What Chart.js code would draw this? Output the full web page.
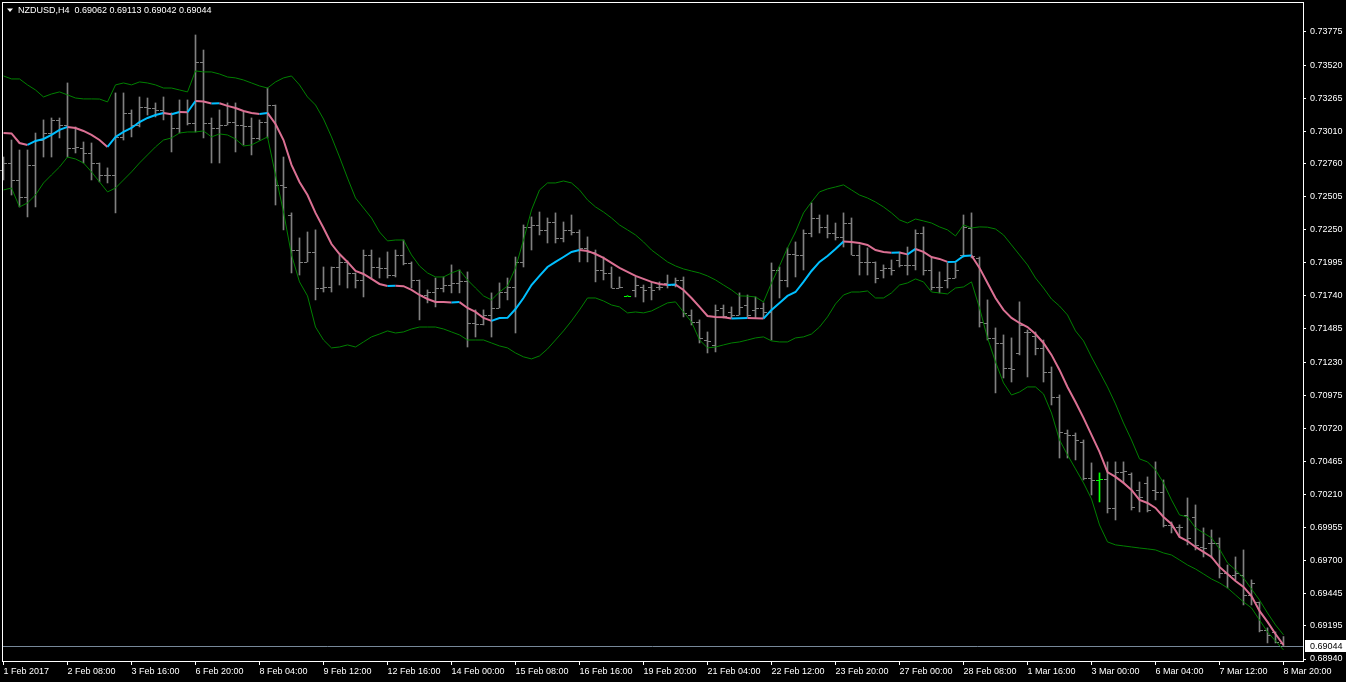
<!DOCTYPE html>
<html>
<head>
<meta charset="utf-8">
<title>NZDUSD,H4</title>
<script src="https://cdn.jsdelivr.net/npm/chart.js@4.4.1/dist/chart.umd.min.js"></script>
<style>
  html, body { margin: 0; padding: 0; background: #000; overflow: hidden; }
  canvas { display: block; }
</style>
</head>
<body>
<canvas id="chart" width="1346" height="682"></canvas>
<script>
const symbol = 'NZDUSD'
const period = 'H4'

// one label every 8th H4 bar
const timeLabels = ['1 Feb 2017', '2 Feb 08:00', '3 Feb 16:00', '6 Feb 20:00', '8 Feb 04:00', '9 Feb 12:00',
  '12 Feb 16:00', '14 Feb 00:00', '15 Feb 08:00', '16 Feb 16:00', '19 Feb 20:00', '21 Feb 04:00',
  '22 Feb 12:00', '23 Feb 20:00', '27 Feb 00:00', '28 Feb 08:00', '1 Mar 16:00', '3 Mar 00:00',
  '6 Mar 04:00', '7 Mar 12:00', '8 Mar 20:00']

const priceTicks = [0.73775, 0.73520, 0.73265, 0.73010, 0.72760, 0.72505, 0.72250, 0.71995, 0.71740, 0.71485,
  0.71230, 0.70975, 0.70720, 0.70465, 0.70210, 0.69955, 0.69700, 0.69445, 0.69195, 0.68940]

const opens = [
  0.72711, 0.72765, 0.72634, 0.72503, 0.72750, 0.72942, 0.72996, 0.73097, 0.73058, 0.72881,
  0.72881, 0.72842, 0.72765, 0.72673, 0.72670, 0.72966, 0.73151, 0.73058, 0.73197, 0.73189,
  0.73174, 0.73151, 0.73035, 0.73158, 0.73074, 0.73544, 0.73074, 0.73035, 0.73058, 0.73081,
  0.73058, 0.73050, 0.72958, 0.73081, 0.73212, 0.72596, 0.72364, 0.72094, 0.72002, 0.72079,
  0.71801, 0.71809, 0.71963, 0.72002, 0.71917, 0.71863, 0.72056, 0.71963, 0.71956, 0.71901,
  0.72056, 0.71994, 0.71863, 0.71747, 0.71770, 0.71801, 0.71824, 0.71840, 0.71855, 0.71531,
  0.71525, 0.71593, 0.71647, 0.71770, 0.71809, 0.72002, 0.72272, 0.72287, 0.72249, 0.72310,
  0.72187, 0.72249, 0.72233, 0.72110, 0.72079, 0.71940, 0.71917, 0.71801, 0.71742, 0.71786,
  0.71809, 0.71809, 0.71809, 0.71840, 0.71824, 0.71863, 0.71593, 0.71539, 0.71400, 0.71362,
  0.71647, 0.71616, 0.71593, 0.71670, 0.71632, 0.71647, 0.71616, 0.71940, 0.71863, 0.72063,
  0.72056, 0.72225, 0.72341, 0.72272, 0.72225, 0.72195, 0.72302, 0.72056, 0.72002, 0.71998,
  0.71940, 0.71956, 0.72017, 0.71979, 0.71975, 0.72225, 0.71940, 0.71809, 0.71863, 0.71878,
  0.72056, 0.72264, 0.72033, 0.71531, 0.71416, 0.71377, 0.71184, 0.71300, 0.71462, 0.71431,
  0.71339, 0.71154, 0.70961, 0.70683, 0.70668, 0.70614, 0.70336, 0.70321, 0.70325, 0.70105,
  0.70382, 0.70367, 0.70244, 0.70298, 0.70244, 0.70228, 0.69974, 0.69958, 0.70051, 0.70035,
  0.69804, 0.69835, 0.69831, 0.69604, 0.69588, 0.69588, 0.69434, 0.69380, 0.69164, 0.69149,
  0.69062]

const highs = [
  0.72811, 0.72942, 0.72865, 0.72865, 0.72996, 0.73097, 0.73112, 0.73112, 0.73382, 0.73043,
  0.72927, 0.72919, 0.72765, 0.72727, 0.73305, 0.73305, 0.73174, 0.73274, 0.73266, 0.73228,
  0.73274, 0.73151, 0.73251, 0.73251, 0.73752, 0.73636, 0.73112, 0.73174, 0.73228, 0.73228,
  0.73158, 0.73112, 0.73097, 0.73343, 0.73212, 0.72811, 0.72380, 0.72187, 0.72233, 0.72249,
  0.71963, 0.71963, 0.72056, 0.72010, 0.71917, 0.72094, 0.72094, 0.72033, 0.72079, 0.72094,
  0.72171, 0.72002, 0.71863, 0.71786, 0.71878, 0.71886, 0.71979, 0.71940, 0.71925, 0.71632,
  0.71632, 0.71763, 0.71840, 0.71878, 0.72040, 0.72287, 0.72349, 0.72387, 0.72341, 0.72380,
  0.72310, 0.72364, 0.72249, 0.72195, 0.72094, 0.72040, 0.71963, 0.71886, 0.71742, 0.71886,
  0.71824, 0.71848, 0.71848, 0.71901, 0.71878, 0.71886, 0.71632, 0.71555, 0.71462, 0.71670,
  0.71670, 0.71655, 0.71763, 0.71747, 0.71732, 0.71686, 0.71994, 0.71963, 0.72110, 0.72156,
  0.72249, 0.72457, 0.72364, 0.72364, 0.72302, 0.72380, 0.72341, 0.72133, 0.72110, 0.72002,
  0.71979, 0.72017, 0.72079, 0.72117, 0.72249, 0.72272, 0.72033, 0.71925, 0.71994, 0.71994,
  0.72364, 0.72380, 0.72040, 0.71709, 0.71493, 0.71439, 0.71416, 0.71694, 0.71477, 0.71462,
  0.71400, 0.71192, 0.70976, 0.70706, 0.70683, 0.70629, 0.70452, 0.70375, 0.70460, 0.70460,
  0.70460, 0.70375, 0.70305, 0.70344, 0.70460, 0.70321, 0.69997, 0.69974, 0.70182, 0.70128,
  0.69951, 0.69935, 0.69874, 0.69665, 0.69727, 0.69781, 0.69550, 0.69380, 0.69180, 0.69149,
  0.69113]

const lows = [
  0.72634, 0.72518, 0.72426, 0.72349, 0.72426, 0.72811, 0.72811, 0.72958, 0.72811, 0.72842,
  0.72765, 0.72634, 0.72619, 0.72611, 0.72380, 0.72942, 0.72966, 0.73043, 0.73135, 0.73120,
  0.73097, 0.72850, 0.72996, 0.73058, 0.73004, 0.72958, 0.72765, 0.72765, 0.73058, 0.72850,
  0.72904, 0.72827, 0.72942, 0.72958, 0.72441, 0.72249, 0.71917, 0.71901, 0.72002, 0.71709,
  0.71770, 0.71770, 0.71824, 0.71801, 0.71801, 0.71732, 0.71878, 0.71878, 0.71878, 0.71886,
  0.71979, 0.71801, 0.71555, 0.71686, 0.71655, 0.71770, 0.71763, 0.71763, 0.71346, 0.71423,
  0.71516, 0.71423, 0.71647, 0.71709, 0.71454, 0.71963, 0.72094, 0.72210, 0.72148, 0.72148,
  0.72156, 0.72210, 0.72002, 0.72002, 0.71848, 0.71863, 0.71801, 0.71801, 0.71738, 0.71732,
  0.71693, 0.71709, 0.71786, 0.71801, 0.71809, 0.71578, 0.71516, 0.71377, 0.71300, 0.71308,
  0.71570, 0.71570, 0.71593, 0.71578, 0.71570, 0.71570, 0.71400, 0.71724, 0.71809, 0.71886,
  0.71940, 0.72195, 0.72225, 0.72187, 0.72171, 0.72117, 0.72056, 0.71901, 0.71901, 0.71840,
  0.71878, 0.71901, 0.71963, 0.71901, 0.71940, 0.71901, 0.71786, 0.71763, 0.71801, 0.71878,
  0.72040, 0.72033, 0.71500, 0.71400, 0.70992, 0.71107, 0.71076, 0.71285, 0.71115, 0.71285,
  0.71076, 0.70899, 0.70490, 0.70490, 0.70475, 0.70321, 0.70205, 0.70151, 0.70066, 0.70012,
  0.70298, 0.70089, 0.70074, 0.70074, 0.70167, 0.69958, 0.69912, 0.69881, 0.69820, 0.69781,
  0.69727, 0.69719, 0.69565, 0.69488, 0.69550, 0.69357, 0.69357, 0.69149, 0.69064, 0.69064,
  0.69042]

const closes = [
  0.72765, 0.72634, 0.72503, 0.72750, 0.72942, 0.72996, 0.73097, 0.73058, 0.72881, 0.72885,
  0.72842, 0.72765, 0.72673, 0.72670, 0.72966, 0.73151, 0.73058, 0.73197, 0.73189, 0.73174,
  0.73151, 0.73035, 0.73158, 0.73074, 0.73544, 0.73074, 0.73035, 0.73058, 0.73081, 0.73058,
  0.73050, 0.72958, 0.73081, 0.73212, 0.72596, 0.72580, 0.72094, 0.72002, 0.72079, 0.71801,
  0.71809, 0.71963, 0.72002, 0.71917, 0.71863, 0.72056, 0.71963, 0.71956, 0.71901, 0.72056,
  0.71994, 0.71863, 0.71747, 0.71770, 0.71801, 0.71824, 0.71840, 0.71855, 0.71531, 0.71525,
  0.71593, 0.71647, 0.71770, 0.71809, 0.72002, 0.72272, 0.72287, 0.72249, 0.72310, 0.72187,
  0.72249, 0.72233, 0.72110, 0.72079, 0.71940, 0.71917, 0.71801, 0.71805, 0.71740, 0.71824,
  0.71786, 0.71786, 0.71805, 0.71824, 0.71863, 0.71608, 0.71539, 0.71416, 0.71395, 0.71632,
  0.71585, 0.71593, 0.71655, 0.71593, 0.71647, 0.71616, 0.71940, 0.71863, 0.72063, 0.72056,
  0.72225, 0.72341, 0.72272, 0.72225, 0.72195, 0.72302, 0.72056, 0.72002, 0.71998, 0.71878,
  0.71956, 0.71940, 0.71979, 0.71975, 0.72225, 0.71940, 0.71809, 0.71805, 0.71878, 0.71940,
  0.72272, 0.72048, 0.71539, 0.71416, 0.71377, 0.71184, 0.71180, 0.71516, 0.71458, 0.71339,
  0.71154, 0.70961, 0.70691, 0.70668, 0.70629, 0.70336, 0.70321, 0.70325, 0.70105, 0.70382,
  0.70390, 0.70113, 0.70190, 0.70089, 0.70228, 0.69974, 0.69958, 0.69955, 0.69874, 0.69820,
  0.69796, 0.69831, 0.69604, 0.69588, 0.69604, 0.69434, 0.69527, 0.69164, 0.69126, 0.69072,
  0.69044]

// Bollinger bands
const bandMiddle = [
  0.72996, 0.72993, 0.72919, 0.72904, 0.72935, 0.72950, 0.72981, 0.73020, 0.73043, 0.73035,
  0.73012, 0.72981, 0.72942, 0.72889, 0.72966, 0.73004, 0.73035, 0.73081, 0.73112, 0.73135,
  0.73151, 0.73141, 0.73158, 0.73156, 0.73243, 0.73239, 0.73224, 0.73225, 0.73205, 0.73189,
  0.73166, 0.73151, 0.73143, 0.73151, 0.73066, 0.72942, 0.72750, 0.72619, 0.72518, 0.72380,
  0.72264, 0.72140, 0.72063, 0.72002, 0.71932, 0.71909, 0.71871, 0.71832, 0.71817, 0.71819,
  0.71815, 0.71786, 0.71747, 0.71716, 0.71693, 0.71692, 0.71690, 0.71692, 0.71647, 0.71616,
  0.71570, 0.71547, 0.71570, 0.71571, 0.71639, 0.71724, 0.71824, 0.71894, 0.71963, 0.72002,
  0.72040, 0.72079, 0.72094, 0.72087, 0.72063, 0.72033, 0.71994, 0.71956, 0.71925, 0.71894,
  0.71871, 0.71848, 0.71832, 0.71824, 0.71827, 0.71786, 0.71724, 0.71655, 0.71585, 0.71578,
  0.71575, 0.71566, 0.71568, 0.71569, 0.71567, 0.71565, 0.71632, 0.71686, 0.71740, 0.71770,
  0.71848, 0.71932, 0.72002, 0.72048, 0.72102, 0.72160, 0.72156, 0.72148, 0.72133, 0.72094,
  0.72079, 0.72073, 0.72075, 0.72060, 0.72102, 0.72079, 0.72040, 0.72025, 0.72002, 0.72003,
  0.72048, 0.72052, 0.71956, 0.71840, 0.71724, 0.71632, 0.71570, 0.71531, 0.71500, 0.71446,
  0.71377, 0.71285, 0.71169, 0.71038, 0.70922, 0.70799, 0.70668, 0.70537, 0.70382, 0.70344,
  0.70298, 0.70244, 0.70167, 0.70143, 0.70105, 0.70035, 0.69981, 0.69881, 0.69850, 0.69804,
  0.69766, 0.69727, 0.69650, 0.69596, 0.69542, 0.69496, 0.69426, 0.69311, 0.69226, 0.69133,
  0.69048]

const bandUpper = [
  0.73436, 0.73413, 0.73413, 0.73367, 0.73328, 0.73274, 0.73297, 0.73313, 0.73290, 0.73266,
  0.73259, 0.73259, 0.73258, 0.73236, 0.73367, 0.73382, 0.73367, 0.73390, 0.73382, 0.73367,
  0.73343, 0.73343, 0.73328, 0.73313, 0.73475, 0.73467, 0.73467, 0.73451, 0.73428, 0.73421,
  0.73405, 0.73382, 0.73359, 0.73343, 0.73390, 0.73421, 0.73436, 0.73367, 0.73274, 0.73212,
  0.73104, 0.72966, 0.72811, 0.72649, 0.72495, 0.72418, 0.72341, 0.72233, 0.72164, 0.72171,
  0.72171, 0.72056, 0.71971, 0.71917, 0.71886, 0.71886, 0.71917, 0.71940, 0.71863, 0.71801,
  0.71740, 0.71709, 0.71770, 0.71817, 0.71956, 0.72171, 0.72403, 0.72557, 0.72611, 0.72611,
  0.72626, 0.72611, 0.72557, 0.72480, 0.72426, 0.72387, 0.72341, 0.72287, 0.72249, 0.72210,
  0.72156, 0.72094, 0.72048, 0.72002, 0.71971, 0.71948, 0.71932, 0.71917, 0.71894, 0.71863,
  0.71824, 0.71786, 0.71740, 0.71738, 0.71732, 0.71693, 0.71840, 0.71971, 0.72110, 0.72233,
  0.72380, 0.72464, 0.72542, 0.72565, 0.72580, 0.72596, 0.72557, 0.72518, 0.72495, 0.72464,
  0.72426, 0.72380, 0.72326, 0.72302, 0.72333, 0.72318, 0.72302, 0.72272, 0.72249, 0.72202,
  0.72287, 0.72264, 0.72272, 0.72270, 0.72256, 0.72210, 0.72133, 0.72056, 0.71979, 0.71878,
  0.71801, 0.71716, 0.71662, 0.71593, 0.71470, 0.71393, 0.71269, 0.71154, 0.71038, 0.70907,
  0.70760, 0.70629, 0.70483, 0.70460, 0.70398, 0.70298, 0.70167, 0.70051, 0.70035, 0.69951,
  0.69912, 0.69874, 0.69789, 0.69681, 0.69627, 0.69565, 0.69480, 0.69395, 0.69295, 0.69203,
  0.69126]

const bandLower = [
  0.72557, 0.72572, 0.72426, 0.72457, 0.72518, 0.72611, 0.72673, 0.72734, 0.72811, 0.72796,
  0.72765, 0.72696, 0.72619, 0.72542, 0.72572, 0.72634, 0.72696, 0.72765, 0.72827, 0.72889,
  0.72942, 0.72958, 0.72996, 0.73004, 0.73004, 0.73012, 0.72966, 0.72989, 0.72981, 0.72950,
  0.72896, 0.72904, 0.72935, 0.72966, 0.72673, 0.72387, 0.72056, 0.71848, 0.71740, 0.71500,
  0.71400, 0.71339, 0.71346, 0.71362, 0.71346, 0.71385, 0.71424, 0.71446, 0.71470, 0.71454,
  0.71462, 0.71485, 0.71500, 0.71500, 0.71500, 0.71485, 0.71462, 0.71439, 0.71400, 0.71400,
  0.71400, 0.71377, 0.71354, 0.71339, 0.71300, 0.71270, 0.71254, 0.71277, 0.71331, 0.71400,
  0.71470, 0.71547, 0.71632, 0.71724, 0.71724, 0.71701, 0.71670, 0.71655, 0.71609, 0.71616,
  0.71609, 0.71624, 0.71655, 0.71686, 0.71694, 0.71616, 0.71539, 0.71400, 0.71339, 0.71346,
  0.71362, 0.71377, 0.71385, 0.71400, 0.71416, 0.71424, 0.71393, 0.71385, 0.71385, 0.71416,
  0.71424, 0.71446, 0.71500, 0.71578, 0.71678, 0.71747, 0.71770, 0.71770, 0.71778, 0.71724,
  0.71724, 0.71763, 0.71824, 0.71840, 0.71871, 0.71848, 0.71770, 0.71763, 0.71755, 0.71801,
  0.71809, 0.71848, 0.71647, 0.71416, 0.71231, 0.71069, 0.70976, 0.70999, 0.71038, 0.71038,
  0.70984, 0.70837, 0.70629, 0.70514, 0.70406, 0.70298, 0.70174, 0.69974, 0.69843, 0.69820,
  0.69812, 0.69804, 0.69796, 0.69789, 0.69781, 0.69758, 0.69742, 0.69704, 0.69665, 0.69634,
  0.69596, 0.69557, 0.69527, 0.69488, 0.69434, 0.69380, 0.69334, 0.69241, 0.69149, 0.69079,
  0.69010]

// bars drawn in lime instead of gray
const highlightedBars = [78, 137]

const FONT = '"Liberation Sans", Arial, sans-serif'
const barColor = '#808080'
const markColor = '#00ff00'
const bandColor = '#008000'
const upColor = '#00bfff'
const downColor = '#db7093'
const bidColor = '#778899'

const last = closes.length - 1
const barColors = closes.map((c, i) => (highlightedBars.includes(i) ? markColor : barColor))
const toPoints = (arr) => arr.map((v, i) => ({ x: i, y: v }))

const background = {
  id: 'background',
  beforeDraw(chart) {
    const { ctx, width, height } = chart
    ctx.save()
    ctx.fillStyle = '#000'
    ctx.fillRect(0, 0, width, height)
    ctx.restore()
  },
}

// open / close ticks of the OHLC bars and the bid line
const ohlcTicks = {
  id: 'ohlcTicks',
  beforeDatasetsDraw(chart) {
    const { ctx, chartArea, scales: { x, y } } = chart
    ctx.save()
    const py = Math.round(y.getPixelForValue(closes[last])) + 0.5
    ctx.strokeStyle = bidColor
    ctx.lineWidth = 1
    ctx.beginPath()
    ctx.moveTo(chartArea.left, py)
    ctx.lineTo(chartArea.right, py)
    ctx.stroke()
    for (let i = 0; i < closes.length; i++) {
      const px = Math.floor(x.getPixelForValue(i))
      ctx.fillStyle = barColors[i]
      ctx.fillRect(px - 3, Math.round(y.getPixelForValue(opens[i])), 3, 1)
      ctx.fillRect(px + 1, Math.round(y.getPixelForValue(closes[i])), 3, 1)
    }
    ctx.restore()
  },
}

const frame = {
  id: 'frame',
  afterDraw(chart) {
    const { ctx, chartArea, scales: { y } } = chart
    ctx.save()
    ctx.strokeStyle = '#fff'
    ctx.lineWidth = 1
    ctx.strokeRect(chartArea.left + 0.5, chartArea.top + 0.5,
      chartArea.right - chartArea.left, chartArea.bottom - chartArea.top)

    // header
    ctx.fillStyle = '#fff'
    ctx.beginPath()
    ctx.moveTo(7, 8.5)
    ctx.lineTo(13, 8.5)
    ctx.lineTo(10, 12)
    ctx.closePath()
    ctx.fill()
    ctx.font = '9px ' + FONT
    ctx.textBaseline = 'middle'
    const head = symbol + ',' + period + '  ' +
      [opens[last], highs[last], lows[last], closes[last]].map(v => v.toFixed(5)).join(' ')
    ctx.fillText(head, 18, 10.5)

    // current price box on the axis
    const py = Math.round(y.getPixelForValue(closes[last]))
    ctx.fillStyle = '#fff'
    ctx.fillRect(chartArea.right + 2, py - 6, chart.width - chartArea.right - 2, 12)
    ctx.fillStyle = '#000'
    ctx.fillText(closes[last].toFixed(5), chartArea.right + 7, py + 0.5)
    ctx.restore()
  },
}

new Chart(document.getElementById('chart'), {
  type: 'bar',
  data: {
    datasets: [
      {
        type: 'line',
        data: toPoints(bandMiddle),
        borderWidth: 2,
        borderColor: downColor,
        segment: {
          borderColor: (c) => (c.p1.parsed.y >= c.p0.parsed.y ? upColor : downColor),
        },
        pointRadius: 0,
        tension: 0,
        order: 1,
      },
      {
        type: 'line',
        data: toPoints(bandUpper),
        borderWidth: 1,
        borderColor: bandColor,
        pointRadius: 0,
        tension: 0,
        order: 2,
      },
      {
        type: 'line',
        data: toPoints(bandLower),
        borderWidth: 1,
        borderColor: bandColor,
        pointRadius: 0,
        tension: 0,
        order: 2,
      },
      {
        type: 'bar',
        data: lows.map((lo, i) => ({ x: i, y: [lo, highs[i]] })),
        backgroundColor: barColors,
        borderWidth: 0,
        borderSkipped: false,
        barThickness: 1,
        order: 3,
      },
    ],
  },
  options: {
    responsive: false,
    devicePixelRatio: 1,
    animation: false,
    events: [],
    layout: { padding: { left: 2, top: 2, right: 0, bottom: 0 }, autoPadding: false },
    plugins: {
      legend: { display: false },
      tooltip: { enabled: false },
    },
    scales: {
      x: {
        type: 'linear',
        position: 'bottom',
        offset: false,
        min: -0.1875,
        max: 162.4375,
        bounds: 'data',
        grid: { display: true, offset: false, drawOnChartArea: false, drawTicks: true, tickLength: 4, color: '#fff' },
        border: { display: false },
        afterBuildTicks: (s) => {
          s.ticks = timeLabels.map((t, k) => ({ value: k * 8 }))
        },
        afterFit: (s) => {
          s.height = 21
          s.paddingLeft = 0
          s.paddingRight = 0
        },
        ticks: {
          color: '#fff',
          font: { family: FONT, size: 9 },
          align: 'start',
          autoSkip: false,
          maxRotation: 0,
          padding: 1,
          callback: (v, i) => timeLabels[i],
        },
      },
      y: {
        type: 'linear',
        position: 'right',
        min: 0.689246,
        max: 0.740063,
        bounds: 'data',
        grid: { display: true, drawOnChartArea: false, drawTicks: true, tickLength: 3, color: '#fff' },
        border: { display: false },
        afterBuildTicks: (s) => {
          s.ticks = priceTicks.map(v => ({ value: v }))
        },
        afterFit: (s) => {
          s.width = 43
          s.paddingTop = 0
          s.paddingBottom = 0
        },
        ticks: {
          color: '#fff',
          font: { family: FONT, size: 9 },
          autoSkip: false,
          padding: 4,
          callback: (v) => Number(v).toFixed(5),
        },
      },
    },
  },
  plugins: [background, ohlcTicks, frame],
})
</script>
</body>
</html>
